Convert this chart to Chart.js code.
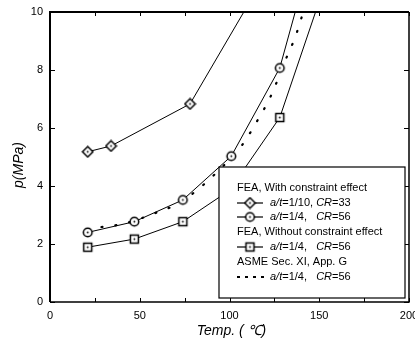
<!DOCTYPE html>
<html>
<head>
<meta charset="utf-8">
<script src="https://cdn.jsdelivr.net/npm/chart.js@4.4.0/dist/chart.umd.min.js"></script>
<style>
  body { margin: 0; background: #fff; }
  #chart { display: block; }
</style>
</head>
<body>
<canvas id="chart" width="415" height="347"></canvas>
<script>
// FEA, with constraint effect, a/t=1/10, CR=33
const tempDiamond = [21, 34, 78, 125];
const pDiamond = [5.18, 5.38, 6.83, 11.8];
// FEA, with constraint effect, a/t=1/4, CR=56
const tempCircle = [21, 47, 74, 101, 128, 150];
const pCircle = [2.4, 2.77, 3.52, 5.03, 8.07, 13.0];
// FEA, without constraint effect, a/t=1/4, CR=56
const tempSquare = [21, 47, 74, 100, 128, 160];
const pSquare = [1.89, 2.17, 2.77, 3.85, 6.36, 12.2];
// ASME Sec. XI, App. G
const tempAsme = [21, 28, 35, 42, 55, 62, 70, 82, 95, 107, 115, 123, 131, 137, 143];
const pAsme = [2.5, 2.58, 2.63, 2.71, 2.98, 3.15, 3.34, 3.86, 4.6, 5.41, 6.2, 7.1, 8.32, 9.2, 10.4];

const xTicks = [0, 50, 100, 150, 200];
const yTicks = [0, 2, 4, 6, 8, 10];

const FONT = "Arial, 'Liberation Sans', sans-serif";

function toPoints(xs, ys) {
    return xs.map((x, i) => ({ x: x, y: ys[i] }));
}

// marker images: open shape with a dot in the middle
function marker(kind) {
    const c = document.createElement('canvas');
    c.width = 13; c.height = 13;
    const g = c.getContext('2d');
    g.strokeStyle = '#000';
    g.fillStyle = '#fff';
    g.lineWidth = 1.5;
    g.beginPath();
    if (kind === 'diamond') {
        g.moveTo(6.5, 1.3); g.lineTo(11.7, 6.5); g.lineTo(6.5, 11.7); g.lineTo(1.3, 6.5); g.closePath();
    } else if (kind === 'circle') {
        g.arc(6.5, 6.5, 4.3, 0, Math.PI * 2);
    } else {
        g.rect(2.5, 2.5, 8, 8);
    }
    g.fill();
    g.stroke();
    g.fillStyle = '#000';
    g.beginPath();
    g.arc(6.5, 6.5, 0.9, 0, Math.PI * 2);
    g.fill();
    return c;
}

const diamondImg = marker('diamond');
const circleImg = marker('circle');
const squareImg = marker('square');

const framePlugin = {
    id: 'frame',
    afterDatasetsDraw(chart) {
        const ctx = chart.ctx;
        const a = chart.chartArea;
        const xs = chart.scales.x, ys = chart.scales.y;
        ctx.save();
        ctx.strokeStyle = '#000';

        // inward ticks
        ctx.lineWidth = 1;
        ctx.beginPath();
        for (let v = 0; v <= 200; v += 25) {
            const px = Math.round(xs.getPixelForValue(v)) + 0.5;
            ctx.moveTo(px, a.bottom); ctx.lineTo(px, a.bottom - 4);
            ctx.moveTo(px, a.top); ctx.lineTo(px, a.top + 4);
        }
        yTicks.forEach(v => {
            const py = Math.round(ys.getPixelForValue(v)) + 0.5;
            ctx.moveTo(a.left, py); ctx.lineTo(a.left + 5, py);
            ctx.moveTo(a.right, py); ctx.lineTo(a.right - 5, py);
        });
        ctx.stroke();

        // legend box
        const lx = a.left + 169, ly = a.top + 155;
        const lw = a.right - 4 - lx, lh = a.bottom - 4 - ly;
        ctx.fillStyle = '#fff';
        ctx.fillRect(lx, ly, lw, lh);
        ctx.lineWidth = 1.2;
        ctx.strokeRect(lx, ly, lw, lh);

        const tx = lx + 18, sx = lx + 51;
        const rows = [ly + 21, ly + 36, ly + 50, ly + 65, ly + 80, ly + 95, ly + 110];
        ctx.fillStyle = '#000';
        ctx.textBaseline = 'middle';
        ctx.textAlign = 'left';

        function runs(x, y, parts) {
            parts.forEach(p => {
                ctx.font = (p[1] ? 'italic ' : '') + '11px ' + FONT;
                ctx.fillText(p[0], x, y);
                x += ctx.measureText(p[0]).width;
            });
        }
        function sample(y, img) {
            ctx.lineWidth = 1.2;
            ctx.beginPath();
            ctx.moveTo(tx, y); ctx.lineTo(tx + 26, y);
            ctx.stroke();
            if (img) ctx.drawImage(img, tx + 13 - 6.5, y - 6.5);
        }

        runs(tx, rows[0], [['FEA, With constraint effect', false]]);
        sample(rows[1], diamondImg);
        runs(sx, rows[1], [['a/t', true], ['=1/10, ', false], ['CR', true], ['=33', false]]);
        sample(rows[2], circleImg);
        runs(sx, rows[2], [['a/t', true], ['=1/4,   ', false], ['CR', true], ['=56', false]]);
        runs(tx, rows[3], [['FEA, Without constraint effect', false]]);
        sample(rows[4], squareImg);
        runs(sx, rows[4], [['a/t', true], ['=1/4,   ', false], ['CR', true], ['=56', false]]);
        runs(tx, rows[5], [['ASME Sec. XI, App. G', false]]);
        ctx.lineWidth = 2;
        ctx.setLineDash([3, 5]);
        ctx.beginPath();
        ctx.moveTo(tx, rows[6]); ctx.lineTo(tx + 27, rows[6]);
        ctx.stroke();
        ctx.setLineDash([]);
        runs(sx, rows[6], [['a/t', true], ['=1/4,   ', false], ['CR', true], ['=56', false]]);

        // frame
        ctx.lineWidth = 2;
        ctx.beginPath();
        ctx.moveTo(a.left, a.bottom); ctx.lineTo(a.left, a.top); ctx.lineTo(a.right, a.top);
        ctx.stroke();
        ctx.lineWidth = 1.5;
        ctx.beginPath();
        ctx.moveTo(a.right, a.top); ctx.lineTo(a.right, a.bottom); ctx.lineTo(a.left, a.bottom);
        ctx.stroke();

        // axis titles
        ctx.font = 'italic 14px ' + FONT;
        ctx.textAlign = 'center';
        ctx.fillText('Temp. ( \u2103)', (a.left + a.right) / 2 + 2, a.bottom + 29);
        ctx.translate(19, a.top + 153);
        ctx.rotate(-Math.PI / 2);
        ctx.fillText('p(MPa)', 0, 0);
        ctx.restore();
    }
};

const ctx = document.getElementById('chart').getContext('2d');
new Chart(ctx, {
    type: 'scatter',
    data: {
        datasets: [
            {
                label: 'a/t=1/10, CR=33',
                data: toPoints(tempDiamond, pDiamond),
                showLine: true,
                borderColor: '#000',
                borderWidth: 1,
                pointStyle: diamondImg,
                clip: 0
            },
            {
                label: 'a/t=1/4, CR=56',
                data: toPoints(tempCircle, pCircle),
                showLine: true,
                borderColor: '#000',
                borderWidth: 1,
                pointStyle: circleImg,
                clip: 0
            },
            {
                label: 'a/t=1/4, CR=56 (no constraint)',
                data: toPoints(tempSquare, pSquare),
                showLine: true,
                borderColor: '#000',
                borderWidth: 1,
                pointStyle: squareImg,
                clip: 0
            },
            {
                label: 'ASME Sec. XI, App. G',
                data: toPoints(tempAsme, pAsme),
                showLine: true,
                borderColor: '#000',
                borderWidth: 2.2,
                borderDash: [1, 13],
                borderCapStyle: 'round',
                cubicInterpolationMode: 'monotone',
                pointRadius: 0,
                clip: 0
            }
        ]
    },
    options: {
        responsive: false,
        animation: false,
        layout: { padding: { left: 0, right: 6, top: 12, bottom: 0 } },
        plugins: {
            legend: { display: false },
            tooltip: { enabled: false }
        },
        scales: {
            x: {
                type: 'linear',
                min: 0,
                max: 200,
                afterFit(scale) { scale.height = 45; scale.paddingLeft = 0; scale.paddingRight = 0; },
                afterBuildTicks(scale) { scale.ticks = xTicks.map(v => ({ value: v })); },
                grid: { display: false },
                border: { display: false },
                ticks: { padding: -1, color: '#000', font: { size: 11, family: FONT }, maxRotation: 0 }
            },
            y: {
                type: 'linear',
                min: 0,
                max: 10,
                afterFit(scale) { scale.width = 50; scale.paddingTop = 0; scale.paddingBottom = 0; },
                afterBuildTicks(scale) { scale.ticks = yTicks.map(v => ({ value: v })); },
                grid: { display: false },
                border: { display: false },
                ticks: { padding: -1, color: '#000', font: { size: 11, family: FONT } }
            }
        }
    },
    plugins: [framePlugin]
});
</script>
</body>
</html>
